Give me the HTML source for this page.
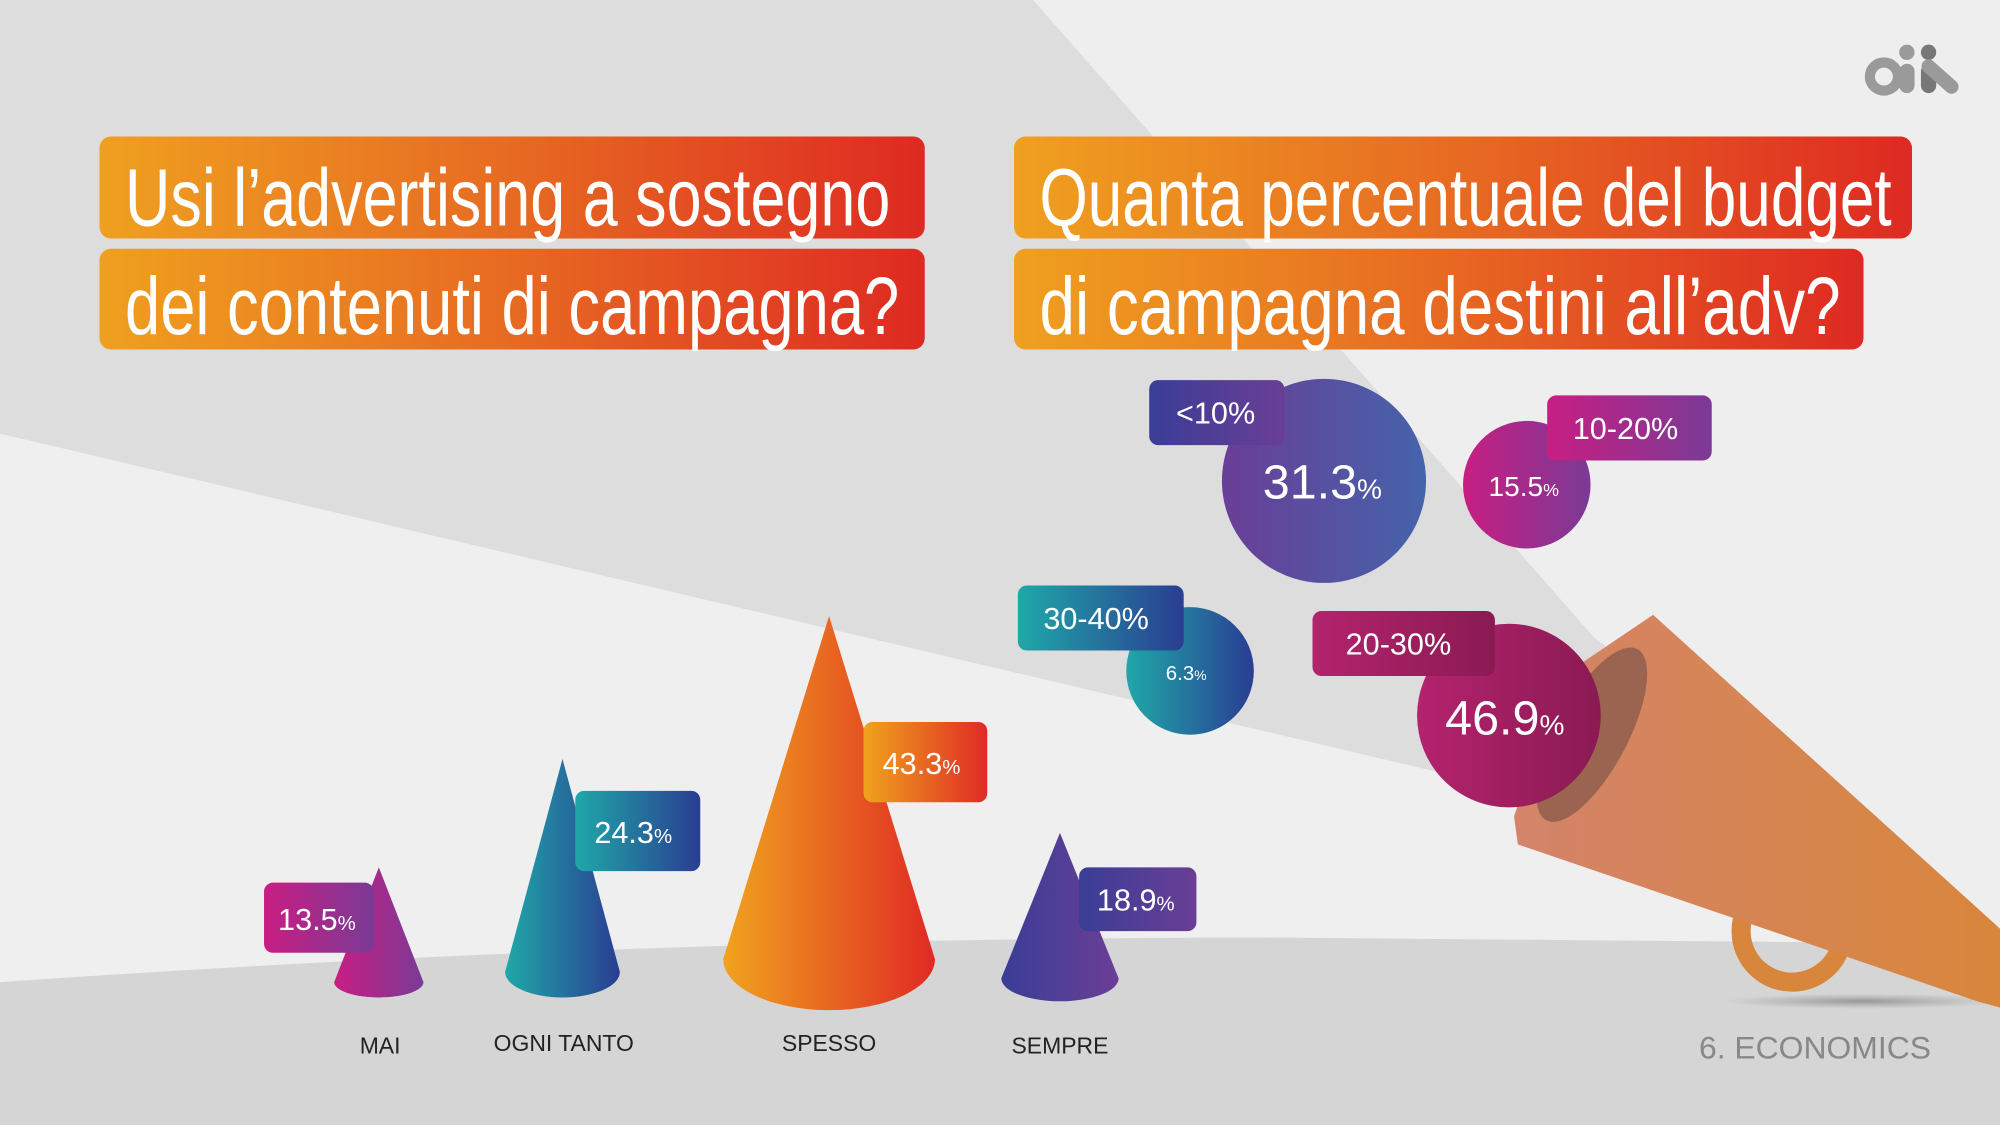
<!DOCTYPE html>
<html><head><meta charset="utf-8"><style>
html,body{margin:0;padding:0;background:#e6e5e5;}
svg{display:block;}
text{font-family:"Liberation Sans",sans-serif;}
.t{font-family:"Liberation Sans Narrow","Liberation Sans",sans-serif;fill:#fff;font-size:64px;}
</style></head><body>
<svg width="2000" height="1125" viewBox="0 0 1568 882" xmlns="http://www.w3.org/2000/svg">
<defs>
<linearGradient id="tg" x1="0" x2="1"><stop offset="0" stop-color="#efa020"/><stop offset="0.5" stop-color="#e76a22"/><stop offset="1" stop-color="#de2a22"/></linearGradient>
<linearGradient id="mag" x1="0" x2="1"><stop offset="0" stop-color="#c81e82"/><stop offset="1" stop-color="#7a3a96"/></linearGradient>
<linearGradient id="teal" x1="0" x2="1"><stop offset="0" stop-color="#1fa8a8"/><stop offset="1" stop-color="#2a3d92"/></linearGradient>
<linearGradient id="org" x1="0" x2="1"><stop offset="0" stop-color="#f0a31e"/><stop offset="1" stop-color="#e02a24"/></linearGradient>
<linearGradient id="pur" x1="0" x2="1"><stop offset="0" stop-color="#3a3d96"/><stop offset="1" stop-color="#6a3e96"/></linearGradient>
<linearGradient id="pb" x1="0" x2="1"><stop offset="0" stop-color="#6a3e96"/><stop offset="1" stop-color="#4563ab"/></linearGradient>
<linearGradient id="mg2" x1="0" x2="1"><stop offset="0" stop-color="#b4236e"/><stop offset="1" stop-color="#8a1a52"/></linearGradient>
<linearGradient id="meg" x1="0" x2="1"><stop offset="0" stop-color="#d4846a"/><stop offset="1" stop-color="#d8863c"/></linearGradient>
<radialGradient id="sh"><stop offset="0" stop-color="#888" stop-opacity="0.8"/><stop offset="1" stop-color="#999" stop-opacity="0"/></radialGradient>
</defs>
<rect width="1568" height="882" fill="#dedddd"/>
<polygon points="810,0 1568,0 1568,735 1250,500" fill="#efeeee"/>
<polygon points="0,340 1190,620 1568,735 1568,882 0,882" fill="#f0efef"/>
<path d="M0,770 Q500,735 1000,735 L1568,740 L1568,882 L0,882 Z" fill="#d6d5d5"/>
<g fill="#9a9a9a">
<circle cx="1477" cy="60" r="11" fill="none" stroke="#9a9a9a" stroke-width="8"/>
<circle cx="1495" cy="41" r="6"/><rect x="1489" y="50" width="12" height="23" rx="6"/>
<circle cx="1512" cy="41" r="6" fill="#777"/><rect x="1506" y="50" width="12" height="23" rx="6" fill="#777"/>
<path d="M1512,52 L1530,68" stroke="#9a9a9a" stroke-width="11" stroke-linecap="round"/>
</g>
<rect x="78" y="107" width="647" height="80" rx="9" fill="url(#tg)"/>
<rect x="78" y="195" width="647" height="79" rx="9" fill="url(#tg)"/>
<rect x="795" y="107" width="704" height="80" rx="9" fill="url(#tg)"/>
<rect x="795" y="195" width="666" height="79" rx="9" fill="url(#tg)"/>
<text class="t" x="98" y="177" textLength="600" lengthAdjust="spacingAndGlyphs">Usi l’advertising a sostegno</text>
<text class="t" x="98" y="262" textLength="607" lengthAdjust="spacingAndGlyphs">dei contenuti di campagna?</text>
<text class="t" x="815" y="177" textLength="668" lengthAdjust="spacingAndGlyphs">Quanta percentuale del budget</text>
<text class="t" x="815" y="262" textLength="628" lengthAdjust="spacingAndGlyphs">di campagna destini all’adv?</text>
<ellipse cx="1460" cy="785" rx="110" ry="6" fill="url(#sh)"/>
<circle cx="1405" cy="730" r="40" fill="none" stroke="#d8863c" stroke-width="15"/>
<polygon points="1296,482 1568,728 1568,790 1550,785 1190,662 1187,640 1225,530" fill="url(#meg)"/>
<ellipse cx="1248" cy="576" rx="28" ry="76" transform="rotate(28 1248 576)" fill="#9a6450"/>
<g>
<path d="M297,680 L262,770 A35,12 0 0 0 332,770 Z" fill="url(#mag)"/>
<path d="M441,595 L396,762 A45,20 0 0 0 486,762 Z" fill="url(#teal)"/>
<path d="M650,483 L567,752 A83,40 0 0 0 733,752 Z" fill="url(#org)"/>
<path d="M831,653 L785,767 A46,18 0 0 0 877,767 Z" fill="url(#pur)"/>
</g>
<rect x="207" y="692" width="86" height="55" rx="7" fill="url(#mag)"/>
<text x="218" y="729" fill="#fff" font-size="24">13.5<tspan font-size="16">%</tspan></text>
<rect x="451" y="620" width="98" height="63" rx="7" fill="url(#teal)"/>
<text x="466" y="661" fill="#fff" font-size="24">24.3<tspan font-size="16">%</tspan></text>
<rect x="677" y="566" width="97" height="63" rx="7" fill="url(#org)"/>
<text x="692" y="607" fill="#fff" font-size="24">43.3<tspan font-size="16">%</tspan></text>
<rect x="846" y="680" width="92" height="50" rx="7" fill="url(#pur)"/>
<text x="860" y="714" fill="#fff" font-size="24">18.9<tspan font-size="16">%</tspan></text>
<g font-size="18" fill="#222" text-anchor="middle">
<text x="298" y="826">MAI</text><text x="442" y="824">OGNI TANTO</text><text x="650" y="824">SPESSO</text><text x="831" y="826">SEMPRE</text>
</g>
<text x="1332" y="830" font-size="25" fill="#888">6. ECONOMICS</text>
<circle cx="1038" cy="377" r="80" fill="url(#pb)"/>
<text x="990" y="391" fill="#fff" font-size="38">31.3<tspan font-size="22">%</tspan></text>
<rect x="901" y="298" width="106" height="51" rx="7" fill="url(#pur)"/>
<text x="922" y="332" fill="#fff" font-size="24">&lt;10%</text>
<circle cx="1197" cy="380" r="50" fill="url(#mag)"/>
<text x="1167" y="389" fill="#fff" font-size="22">15.5<tspan font-size="14">%</tspan></text>
<rect x="1213" y="310" width="129" height="51" rx="7" fill="url(#mag)"/>
<text x="1233" y="344" fill="#fff" font-size="24">10-20%</text>
<circle cx="933" cy="526" r="50" fill="url(#teal)"/>
<text x="914" y="533" fill="#fff" font-size="16">6.3<tspan font-size="11">%</tspan></text>
<rect x="798" y="459" width="130" height="51" rx="7" fill="url(#teal)"/>
<text x="818" y="493" fill="#fff" font-size="24">30-40%</text>
<circle cx="1183" cy="561" r="72" fill="url(#mg2)"/>
<text x="1133" y="576" fill="#fff" font-size="38">46.9<tspan font-size="22">%</tspan></text>
<rect x="1029" y="479" width="143" height="51" rx="7" fill="url(#mg2)"/>
<text x="1055" y="513" fill="#fff" font-size="24">20-30%</text>
</svg>
</body></html>
